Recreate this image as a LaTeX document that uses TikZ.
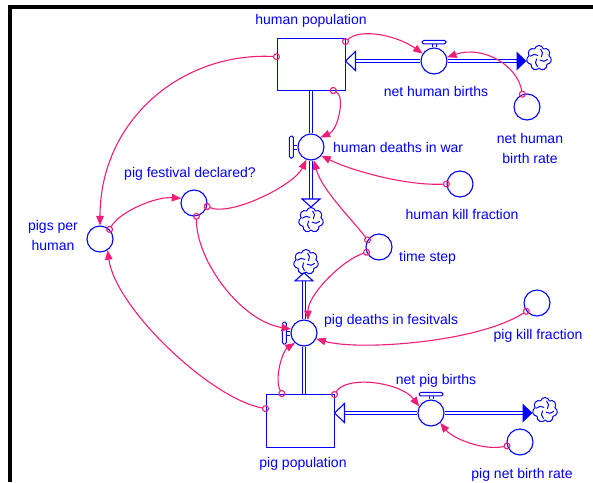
\documentclass[tikz,border=0pt]{standalone}
\usepackage{fontspec}
\setmainfont{Liberation Sans}
\usetikzlibrary{arrows.meta,calc,shapes.symbols}
\definecolor{flowblue}{RGB}{0,0,255}
\definecolor{linkpink}{RGB}{240,30,120}
\begin{document}
\begin{tikzpicture}[x=1pt,y=-1pt,
  lbl/.style={text=flowblue,font=\fontsize{14}{20}\selectfont,inner sep=0pt},
  stock/.style={rectangle,draw=flowblue,fill=white,line width=1pt,minimum width=68pt,minimum height=52pt,inner sep=0pt},
  aux/.style={circle,draw=flowblue,fill=white,line width=1.1pt,minimum size=26pt,inner sep=0pt},
  valve/.style={aux},
  sink/.style={cloud,cloud puffs=7,aspect=1,draw=flowblue,fill=white,line width=1pt,
    minimum width=25pt,minimum height=25pt,inner sep=0pt,
    path picture={
      \foreach \a in {20,110,200,290}
        \draw[flowblue,line width=1pt]
          ($(path picture bounding box.center)+(\a:2.5pt)$) to[bend right=40]
          ($(path picture bounding box.center)+(\a+60:9pt)$);
    }},
  pipe/.style={draw=flowblue,line width=1.1pt,double=white,double distance=2.6pt},
  hollowtip/.style={draw=flowblue,fill=white,line width=1.1pt,line join=miter},
  handle/.style={draw=flowblue,fill=white,line width=1pt,rounded corners=1.5pt},
  stem/.style={draw=flowblue,line width=1pt},
  link/.style={draw=linkpink,line width=1.1pt,
    {Circle[open,length=7pt,width=7pt]}-{Triangle[length=9.5pt,width=7.5pt]},shorten <=-3.5pt},
]
\path[use as bounding box,fill=white] (0,0) rectangle (593,482);

% frame edges
\fill[black] (8,5) rectangle (593,9);
\fill[black] (8,5) rectangle (12,482);

% stocks
\node[stock] (hp) at (311,64) {};
\node[stock,minimum height=53pt] (pp) at (300,420.5) {};

% flow valves
\node[valve] (nhb) at (434,61) {};
\node[valve] (hdw) at (311,147) {};
\node[valve] (pdf) at (304,333) {};
\node[valve] (npb) at (431,413) {};

% auxiliaries and constants
\node[aux] (nhbr) at (527,107) {};
\node[aux] (hkf) at (460,184) {};
\node[aux] (ts) at (379,247) {};
\node[aux] (pkf) at (537,303) {};
\node[aux] (pnbr) at (520,442) {};
\node[aux] (pph) at (100,239) {};
\node[aux] (pfd) at (194,203) {};

% sources and sinks
\node[sink] (hbsink) at (539,58) {};
\node[sink] (hdsink) at (311,220) {};
\node[sink] (pdsink) at (306,262) {};
\node[sink] (pbsink) at (545,410) {};

% labels
\node[lbl,anchor=base] (hp-lbl) at (311,24) {human population};
\node[lbl,anchor=base] (nhb-lbl) at (436,96.7) {net human births};
\node[lbl,align=center] (nhbr-lbl) at (530,148.4) {net human\\birth rate};
\node[lbl,anchor=base west] (hdw-lbl) at (333,152.7) {human deaths in war};
\node[lbl,anchor=base] (pfd-lbl) at (190,177.3) {pig festival declared?};
\node[lbl,align=center] (pph-lbl) at (53,235.4) {pigs per\\human};
\node[lbl,anchor=base] (hkf-lbl) at (462,219.3) {human kill fraction};
\node[lbl,anchor=base west] (ts-lbl) at (399,261.7) {time step};
\node[lbl,anchor=base west] (pdf-lbl) at (324,324) {pig deaths in fesitvals};
\node[lbl,anchor=base] (pkf-lbl) at (538,339.3) {pig kill fraction};
\node[lbl,anchor=base] (npb-lbl) at (436,384) {net pig births};
\node[lbl,anchor=base] (pp-lbl) at (303,467.3) {pig population};
\node[lbl,anchor=base] (pnbr-lbl) at (522,478.3) {pig net birth rate};

% human births pipe
\coordinate (hbin) at (hp.east |- nhb.west);
\draw[pipe] ($(hbin)+(10,0)$) -- (nhb.west);
\filldraw[hollowtip] (hbin) -- ++(10,-9.5) -- ++(0,19) -- cycle;
\coordinate (hbout) at (hbsink.west |- nhb.east);
\draw[pipe] (nhb.east) -- ($(hbout)+(-10,0)$);
\fill[flowblue] (hbout) -- ++(-10,-9.5) -- ++(0,19) -- cycle;

% human deaths pipe
\draw[pipe] (hp.south) -- (hdw.north);
\coordinate (hdout) at (hdw.south |- hdsink.north);
\draw[pipe] (hdw.south) -- ($(hdout)+(0,-8)$);
\filldraw[hollowtip] (hdout) -- ++(-9,-8) -- ++(18,0) -- cycle;

% pig deaths pipe
\draw[pipe] (pdf.south) -- (pdf.south |- pp.north);
\coordinate (pdout) at (pdf.north |- pdsink.south);
\draw[pipe] (pdf.north) -- ($(pdout)+(0,8)$);
\filldraw[hollowtip] (pdout) -- ++(-9,8) -- ++(18,0) -- cycle;

% pig births pipe
\coordinate (pbin) at (pp.east |- npb.west);
\draw[pipe] ($(pbin)+(10,0)$) -- (npb.west);
\filldraw[hollowtip] (pbin) -- ++(10,-9.5) -- ++(0,19) -- cycle;
\coordinate (pbout) at (pbsink.west |- npb.east);
\draw[pipe] (npb.east) -- ($(pbout)+(-10,0)$);
\fill[flowblue] (pbout) -- ++(-10,-9.5) -- ++(0,19) -- cycle;

% valve handles
\foreach \vname in {nhb,npb}{
  \draw[stem] ($(\vname.north)+(-2,0)$) -- ++(0,-3.5) ($(\vname.north)+(2,0)$) -- ++(0,-3.5);
  \draw[handle] ($(\vname.north)+(-12,-3.5)$) rectangle ($(\vname.north)+(12,-7)$);
}
\foreach \vname in {hdw,pdf}{
  \draw[stem] ($(\vname.west)+(0,-2)$) -- ++(-4,0) ($(\vname.west)+(0,2)$) -- ++(-4,0);
  \draw[handle] ($(\vname.west)+(-4,-11)$) rectangle ($(\vname.west)+(-8,11)$);
}

% information links
\draw[link] (hp.168) .. controls +(-95,-5) and +(0,-105) .. (pph.north);
\draw[link] (hp.33) .. controls +(15,-14) and +(-25,-18) .. (nhb.147);
\draw[link] (nhbr.110) .. controls +(-5,-30) and +(35,-12) .. (nhb.16);
\draw[link] (hp.-50) .. controls +(12,5) and +(18,-8) .. (hdw.45);
\draw[link] (pfd.-15) .. controls +(25,10) and +(-12,25) .. (hdw.250);
\draw[link] (hkf.180) .. controls +(-40,2) and +(30,15) .. (hdw.-40);
\draw[link] (ts.148) .. controls +(-15,-20) and +(8,30) .. (hdw.-78);
\draw[link] (ts.203) .. controls +(-25,8) and +(0,-25) .. (pdf.73);
\draw[link] (pfd.-80) .. controls +(0,45) and +(-50,-8) .. (pdf.163);
\draw[link] (pkf.218) .. controls +(-50,32) and +(40,12) .. (pdf.-25);
\draw[link] (pp.124) .. controls +(-8,-15) and +(-12,8) .. (pdf.227);
\draw[link] (pp.161) .. controls +(-55,-10) and +(8,58) .. (pph.-56);
\draw[link] (pp.37) .. controls +(12,-20) and +(-18,-24) .. (npb.151);
\draw[link] (pnbr.197) .. controls +(-25,5) and +(12,15) .. (npb.-47);
\draw[link] (pph.45) .. controls +(10,-18) and +(-25,-2) .. (pfd.160);
\end{tikzpicture}
\end{document}
